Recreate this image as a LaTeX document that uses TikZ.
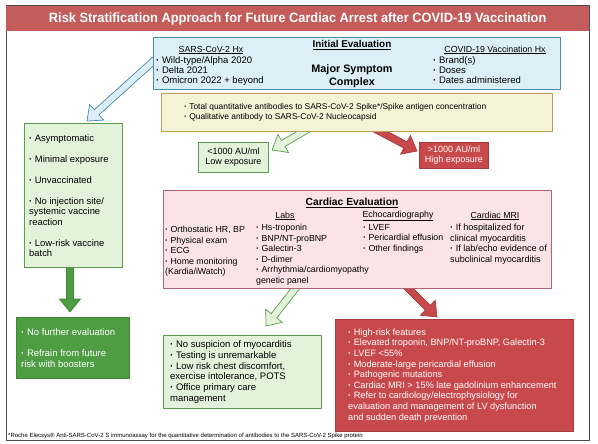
\documentclass[tikz,border=0pt]{standalone}
\usepackage{fontspec}
\setmainfont{Liberation Sans}
\usetikzlibrary{positioning, calc, backgrounds}
\definecolor{rskHead}{HTML}{C45C5C}
\definecolor{rskFrame}{HTML}{4D4D4D}
\definecolor{evalFill}{HTML}{DCEFF7}
\definecolor{evalLine}{HTML}{4A8CAD}
\definecolor{abFill}{HTML}{F6F2D6}
\definecolor{abLine}{HTML}{B9A15A}
\definecolor{lowFill}{HTML}{E2F2DB}
\definecolor{lowLine}{HTML}{5A9E4B}
\definecolor{okGreen}{HTML}{4E9D43}
\definecolor{okLine}{HTML}{3C8A33}
\definecolor{highRed}{HTML}{C8494B}
\definecolor{highLine}{HTML}{A83A3C}
\definecolor{cardFill}{HTML}{FBE3E8}
\definecolor{cardLine}{HTML}{B36373}
\newcommand{\bul}{{\bfseries\textperiodcentered}\ }
\newcommand{\fatarrow}[3]{%
  \coordinate (fa-base) at ($(#3)!13pt!(#2)$);
  \filldraw[#1] ($(#2)!3.5pt!90:(#3)$) -- ($(fa-base)!3.5pt!90:(#3)$) -- ($(fa-base)!10.5pt!90:(#3)$) -- (#3)
    -- ($(fa-base)!10.5pt!-90:(#3)$) -- ($(fa-base)!3.5pt!-90:(#3)$) -- ($(#2)!3.5pt!-90:(#3)$) -- cycle;}

\begin{document}
\begin{tikzpicture}[x=1pt, y=-1pt, font=\fontsize{9}{10.5}\selectfont,
        card/.style={draw, line width=0.8pt, anchor=north west, inner sep=0pt},
        txt/.style={align=left, inner sep=0pt},
        hdr/.style={inner sep=0pt, font=\fontsize{8.8}{10}\selectfont},
        arr/.style={line width=0.7pt, line join=miter}]
  \useasboundingbox (0,0) rectangle (598,444);
  \draw[rskFrame, line width=1pt] (6,6) rectangle (589,440);
  \node[fill=rskHead, anchor=north west, minimum width=583, minimum height=25, inner sep=0pt, text=white,
        font=\bfseries\fontsize{13.5}{13.5}\selectfont] (title) at (6,6)
        {\scalebox{0.95}[1]{Risk Stratification Approach for Future Cardiac Arrest after COVID-19 Vaccination}};

  \node[card, draw=evalLine, fill=evalFill, minimum width=407, minimum height=52] (initial) at (153,37) {};
  \node[hdr] (sarsHead) at (211,50) {\underline{SARS-CoV-2 Hx}};
  \node[txt, anchor=north west, font=\fontsize{9.5}{10}\selectfont] (sarsList) at (156,56) {\bul Wild-type/Alpha 2020\\ \bul Delta 2021\\ \bul Omicron 2022 + beyond};
  \node[hdr, font=\bfseries\fontsize{9.9}{10}\selectfont] (initHead) at (352,45) {\underline{Initial Evaluation}};
  \node[hdr, align=center, font=\bfseries\fontsize{10.8}{12.5}\selectfont] (majorSym) at (352,76) {Major Symptom\\Complex};
  \node[hdr] (vaxHead) at (495,50) {\underline{COVID-19 Vaccination Hx}};
  \node[txt, anchor=north west, font=\fontsize{9.5}{10}\selectfont] (vaxList) at (433,56) {\bul Brand(s)\\ \bul Doses\\ \bul Dates administered};

  \node[card, draw=abLine, fill=abFill, minimum width=391, minimum height=38] (antibody) at (161,93) {};
  \node[txt, right=23pt of antibody.west, font=\fontsize{8.4}{10.5}\selectfont] (antibodyText)
        {\bul Total quantitative antibodies to SARS-CoV-2 Spike*/Spike antigen concentration\\
        \bul Qualitative antibody to SARS-CoV-2 Nucleocapsid};

  \node[card, draw=lowLine, fill=lowFill, minimum width=70, minimum height=30] (lowExp) at (198,142) {};
  \node[txt, align=center] (lowExpText) at (lowExp.center) {<1000 AU/ml\\Low exposure};
  \node[card, draw=highLine, fill=highRed, minimum width=69, minimum height=26] (highExp) at (419,142) {};
  \node[txt, align=center, text=white] (highExpText) at (highExp.center) {>1000 AU/ml\\High exposure};

  \node[card, draw=lowLine, fill=lowFill, minimum width=98, minimum height=144] (noRisk) at (24,123) {};
  \node[txt, right=5pt of noRisk.west, font=\fontsize{9.4}{10.5}\selectfont] (noRiskText)
        {\bul Asymptomatic\\[10.5pt] \bul Minimal exposure\\[10.5pt] \bul Unvaccinated\\[10.5pt]
        \bul No injection site/\\systemic vaccine\\reaction\\[10.5pt] \bul Low-risk vaccine\\batch};
  \node[card, draw=okLine, fill=okGreen, minimum width=113, minimum height=61] (noEval) at (16,317) {};
  \node[txt, text=white, right=5pt of noEval.west, font=\fontsize{9.5}{10.5}\selectfont] (noEvalText)
        {\bul No further evaluation\\[10.5pt] \bul Refrain from future\\risk with boosters};

  \node[card, draw=cardLine, fill=cardFill, minimum width=388, minimum height=98] (cardiac) at (163,190) {};
  \node[hdr, font=\bfseries\fontsize{10.3}{11}\selectfont] (cardHead) at (352,203) {\underline{Cardiac Evaluation}};
  \node[txt, anchor=north west, font=\fontsize{8.8}{10.5}\selectfont] (physList) at (165,226)
        {\bul Orthostatic HR, BP\\ \bul Physical exam\\ \bul ECG\\ \bul Home monitoring\\(Kardia/iWatch)};
  \node[hdr] (labsHead) at (285,216) {\underline{Labs}};
  \node[txt, anchor=north west, font=\fontsize{8.8}{10.5}\selectfont] (labsList) at (256,224)
        {\bul Hs-troponin\\ \bul BNP/NT-proBNP\\ \bul Galectin-3\\ \bul D-dimer\\ \bul Arrhythmia/cardiomyopathy\\genetic panel};
  \node[hdr] (echoHead) at (398,216) {\underline{Echocardiography}};
  \node[txt, anchor=north west, font=\fontsize{8.8}{10.5}\selectfont] (echoList) at (363,224)
        {\bul LVEF\\ \bul Pericardial effusion\\ \bul Other findings};
  \node[hdr] (mriHead) at (495,216) {\underline{Cardiac MRI}};
  \node[txt, anchor=north west, font=\fontsize{9.1}{10.5}\selectfont] (mriList) at (450,224)
        {\bul If hospitalized for\\clinical myocarditis\\ \bul If lab/echo evidence of\\subclinical myocarditis};

  \node[card, draw=lowLine, fill=lowFill, minimum width=158, minimum height=73] (lowRisk) at (163,335) {};
  \node[txt, right=7pt of lowRisk.west, font=\fontsize{9.5}{10.7}\selectfont] (lowRiskText)
        {\bul No suspicion of myocarditis\\ \bul Testing is unremarkable\\
        \bul Low risk chest discomfort,\\exercise intolerance, POTS\\ \bul Office primary care\\management};
  \node[card, draw=highLine, fill=highRed, minimum width=238, minimum height=112] (highRisk) at (335,319) {};
  \node[txt, text=white, right=13pt of highRisk.west, font=\fontsize{9.2}{10.6}\selectfont] (highRiskText) {\bul High-risk features\\
        \bul Elevated troponin, BNP/NT-proBNP, Galectin-3\\ \bul LVEF <55\%\\ \bul Moderate-large pericardial effusion\\
        \bul Pathogenic mutations\\ \bul Cardiac MRI > 15\% late gadolinium enhancement\\
        \bul Refer to cardiology/electrophysiology for\\evaluation and management of LV dysfunction\\and sudden death prevention};

  \node[txt, anchor=west, font=\fontsize{6}{6}\selectfont] (footnote) at (8,435.5)
        {*Roche Elecsys\textregistered{} Anti-SARS-CoV-2 S immunoassay for the quantitative determination of antibodies to the SARS-CoV-2 Spike protein};

  \coordinate (histTail) at (168,48);  \coordinate (histTip) at (87,121);
  \coordinate (lowTail) at (320,122);  \coordinate (lowTip) at (272,150);
  \coordinate (highTail) at (362,122); \coordinate (highTip) at (417,151);
  \coordinate (okTail) at (70,260);    \coordinate (okTip) at (70,312);
  \coordinate (benTail) at (302,280);  \coordinate (benTip) at (266,326);
  \coordinate (malTail) at (400,280);  \coordinate (malTip) at (437,317);
  \begin{scope}[on background layer]
    \fatarrow{arr, draw=evalLine, fill=evalFill}{histTail}{histTip}
    \fatarrow{arr, draw=lowLine, fill=lowFill}{lowTail}{lowTip}
    \fatarrow{arr, draw=highLine, fill=highRed}{highTail}{highTip}
    \fatarrow{arr, draw=okLine, fill=okGreen}{okTail}{okTip}
    \fatarrow{arr, draw=lowLine, fill=lowFill}{benTail}{benTip}
    \fatarrow{arr, draw=highLine, fill=highRed}{malTail}{malTip}
  \end{scope}
\end{tikzpicture}
\end{document}
